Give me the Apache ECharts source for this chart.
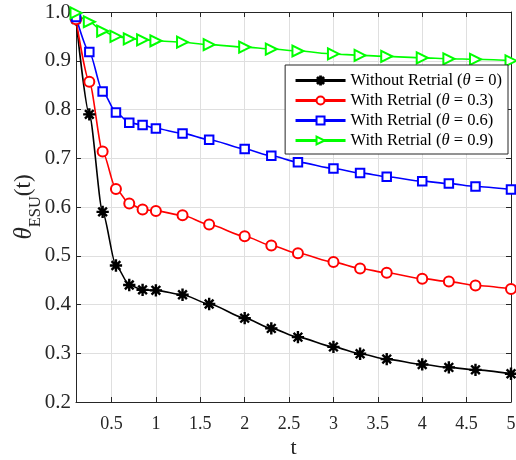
<!DOCTYPE html>
<html>
<head>
<meta charset="utf-8">
<script src="https://cdn.jsdelivr.net/npm/echarts@6/dist/echarts.min.js"></script>
<style>html,body{margin:0;padding:0;background:#fff}#c{width:516px;height:460px}</style>
</head>
<body>
<div id="c"></div>
<script>
const tValues = [0.1, 0.25, 0.4, 0.55, 0.7, 0.85, 1.0, 1.3, 1.6, 2.0, 2.3, 2.6, 3.0, 3.3, 3.6, 4.0, 4.3, 4.6, 5.0];
const noRetrial = [0.985, 0.79, 0.59, 0.48, 0.44, 0.43, 0.429, 0.42, 0.401, 0.372, 0.351, 0.333, 0.313, 0.299, 0.288, 0.277, 0.271, 0.266, 0.258];
const retrial03 = [0.985, 0.857, 0.714, 0.637, 0.607, 0.595, 0.592, 0.583, 0.564, 0.540, 0.521, 0.505, 0.487, 0.474, 0.465, 0.453, 0.447, 0.439, 0.432];
const retrial06 = [0.99, 0.918, 0.837, 0.794, 0.773, 0.768, 0.761, 0.751, 0.738, 0.719, 0.705, 0.692, 0.679, 0.670, 0.662, 0.653, 0.648, 0.642, 0.636];
const retrial09 = [0.998, 0.980, 0.961, 0.950, 0.945, 0.943, 0.941, 0.938, 0.933, 0.928, 0.924, 0.920, 0.914, 0.911, 0.909, 0.906, 0.904, 0.903, 0.900];
const seriesNames = ['Without Retrial (θ = 0)', 'With Retrial (θ = 0.3)', 'With Retrial (θ = 0.6)', 'With Retrial (θ = 0.9)'];
const yTicks = [0.2, 1.0, 0.1];
const xRange = [0.1, 5, 0.5];

const FONT = '"Liberation Serif", "Times New Roman", serif';
const star = 'path://M9 0L11 0L11 20L9 20Z M0 9L20 9L20 11L0 11Z M3.64 2.22L17.78 16.36L16.36 17.78L2.22 3.64Z M17.78 3.64L3.64 17.78L2.22 16.36L16.36 2.22Z';

function pairs(arr) { return tValues.map((t, i) => [t, arr[i]]); }

function mkSeries(name, data, color, symbol, size, rotate) {
  return {
    name: name, type: 'line', data: pairs(data), xAxisIndex: 0, yAxisIndex: 0,
    smooth: 0.25, smoothMonotone: 'x',
    symbol: symbol, symbolSize: size, symbolRotate: rotate || 0, symbolKeepAspect: true,
    showAllSymbol: true,
    lineStyle: { color: color, width: 1.6 },
    itemStyle: { color: color, borderColor: color, borderWidth: 1.3 },
    emphasis: { disabled: true },
    animation: false
  };
}

const chart = echarts.init(document.getElementById('c'), null, { renderer: 'canvas' });
const axisCommon = {
  axisLine: { show: true, onZero: false, lineStyle: { color: '#262626', width: 1 } },
  axisTick: { show: true, inside: true, length: 5, lineStyle: { color: '#262626' } }
};
chart.setOption({
  animation: false,
  backgroundColor: '#fff',
  textStyle: { fontFamily: FONT },
  grid: { left: 76, right: 5, top: 12, bottom: 58, containLabel: false, outerBoundsMode: 'none' },
  legend: {
    orient: 'vertical', right: 8, top: 65,
    itemWidth: 50, itemHeight: 10, itemGap: 3,
    padding: [7, 6, 5, 9],
    backgroundColor: '#fff', borderColor: '#262626', borderWidth: 1,
    data: seriesNames,
    formatter: function (n) { return n.replace('θ', '{it|θ}'); },
    textStyle: { fontFamily: FONT, fontSize: 16.5, color: '#000', lineHeight: 17,
      rich: { it: { fontFamily: FONT, fontStyle: 'italic', fontSize: 16.5, color: '#000', lineHeight: 17 } } },
    lineStyle: { width: 2.8 }
  },
  xAxis: [
    Object.assign({}, axisCommon, {
      type: 'value', position: 'bottom', min: xRange[0], max: xRange[1],
      minInterval: xRange[2], maxInterval: xRange[2], splitNumber: 10,
      axisLabel: { showMinLabel: false, color: '#262626', fontSize: 18, fontFamily: FONT, margin: 13 },
      splitLine: { show: true, lineStyle: { color: '#dfdfdf', width: 1 } },
      name: 't', nameLocation: 'middle', nameGap: 35, nameMoveOverlap: false,
      nameTextStyle: { fontFamily: FONT, fontSize: 22, color: '#262626' }
    }),
    Object.assign({}, axisCommon, {
      type: 'value', position: 'top', min: xRange[0], max: xRange[1],
      minInterval: xRange[2], maxInterval: xRange[2], splitNumber: 10,
      axisLabel: { show: false }, splitLine: { show: false }
    })
  ],
  yAxis: [
    Object.assign({}, axisCommon, {
      type: 'value', position: 'left', min: yTicks[0], max: yTicks[1], interval: yTicks[2],
      axisLabel: { color: '#262626', fontSize: 21, fontFamily: FONT, margin: 5,
        formatter: function (v) { return v.toFixed(1); } },
      splitLine: { show: true, lineStyle: { color: '#dfdfdf', width: 1 } },
      name: '{th|θ}{sub|ESU}{n|(t)}', nameLocation: 'middle', nameGap: 32, nameRotate: 90,
      nameMoveOverlap: false,
      nameTextStyle: { fontFamily: FONT, fontSize: 23, color: '#262626',
        rich: {
          th: { fontFamily: FONT, fontStyle: 'italic', fontSize: 25, color: '#262626', lineHeight: 40 },
          sub: { fontFamily: FONT, fontSize: 16.5, color: '#262626', verticalAlign: 'bottom', lineHeight: 15 },
          n: { fontFamily: FONT, fontSize: 23, color: '#262626', lineHeight: 40 }
        } }
    }),
    Object.assign({}, axisCommon, {
      type: 'value', position: 'right', min: yTicks[0], max: yTicks[1], interval: yTicks[2],
      axisLabel: { show: false }, splitLine: { show: false }
    })
  ],
  series: [
    mkSeries(seriesNames[0], noRetrial, '#000000', star, 11, 0),
    mkSeries(seriesNames[1], retrial03, '#ff0000', 'emptyCircle', 10, 0),
    mkSeries(seriesNames[2], retrial06, '#0000ff', 'emptyRect', 8.5, 0),
    mkSeries(seriesNames[3], retrial09, '#00ff00', 'emptyTriangle', 11, -90)
  ]
});
</script>
</body>
</html>
